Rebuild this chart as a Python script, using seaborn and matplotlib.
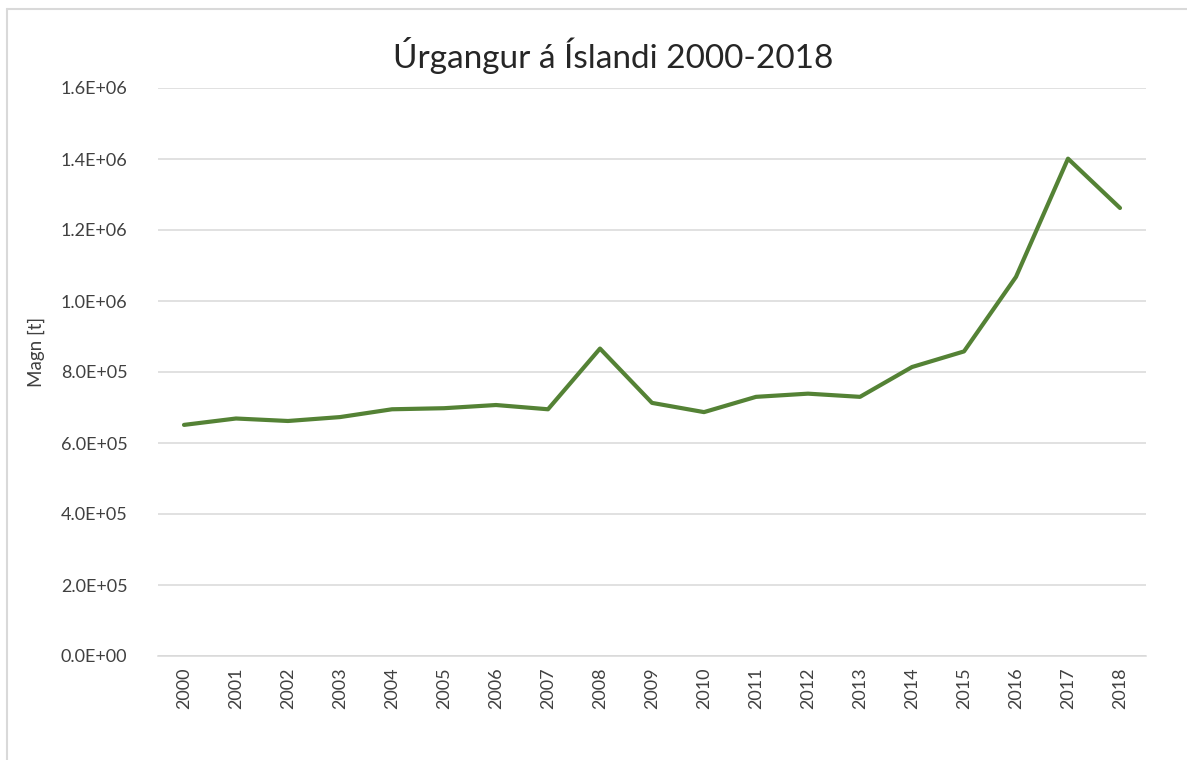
import pandas as pd
import matplotlib.pyplot as plt
import seaborn as sns
from matplotlib.lines import Line2D
from matplotlib.ticker import FuncFormatter

# Urgangur a Islandi (tonn), lesid af mynd
years = list(range(2000, 2019))
magn = [651000, 669000, 662000, 673000, 695000, 698000, 707000, 695000, 866000,
        713000, 687000, 730000, 739000, 730000, 814000, 858000, 1068000, 1401000, 1262000]

df = pd.DataFrame({'Ar': years, 'Magn': magn})

sns.set_theme(style='white')
plt.rcParams['font.family'] = ['Lato', 'DejaVu Sans']

fig = plt.figure(figsize=(11.87, 7.6), dpi=100)
ax = fig.add_axes([158 / 1187, 1 - 656 / 760, (1146 - 158) / 1187, (656 - 88) / 760])

sns.lineplot(data=df, x='Ar', y='Magn', color='#548235', linewidth=3.0, ax=ax)

ax.set_xlim(1999.5, 2018.5)
ax.set_ylim(0, 1.6e6)
ax.set_yticks([i * 2e5 for i in range(9)])
ax.set_xticks(years)
ax.set_xticklabels([str(y) for y in years], rotation=90, fontsize=13, color='#404040')
ax.yaxis.set_major_formatter(FuncFormatter(lambda v, p: f'{v:.1E}'))
ax.tick_params(axis='y', labelsize=13, labelcolor='#404040', length=0, pad=22)
ax.tick_params(axis='x', length=0, pad=8)

ax.grid(axis='y', color='#d9d9d9', linewidth=1.1)
ax.set_axisbelow(True)
for s in ['top', 'right', 'left']:
    ax.spines[s].set_visible(False)
ax.spines['bottom'].set_color('#d9d9d9')
ax.spines['bottom'].set_linewidth(1.1)

ax.set_xlabel('')
ax.set_ylabel('Magn [t]', fontsize=13.5, color='#404040')
ax.yaxis.set_label_coords((45 - 158) / (1146 - 158), 1 - (352 - 88) / (656 - 88))

fig.text(613 / 1187, 1 - 55 / 760, 'Úrgangur á Íslandi 2000-2018', ha='center', va='center',
         fontsize=24, color='#262626')

# rammi um myndina (vinstri og efri brun)
fig.add_artist(Line2D([7 / 1187, 7 / 1187], [0, 1 - 9 / 760], color='#d9d9d9', linewidth=1.5))
fig.add_artist(Line2D([7 / 1187, 1], [1 - 9 / 760, 1 - 9 / 760], color='#d9d9d9', linewidth=1.5))

fig.savefig('out.png', dpi=100)
